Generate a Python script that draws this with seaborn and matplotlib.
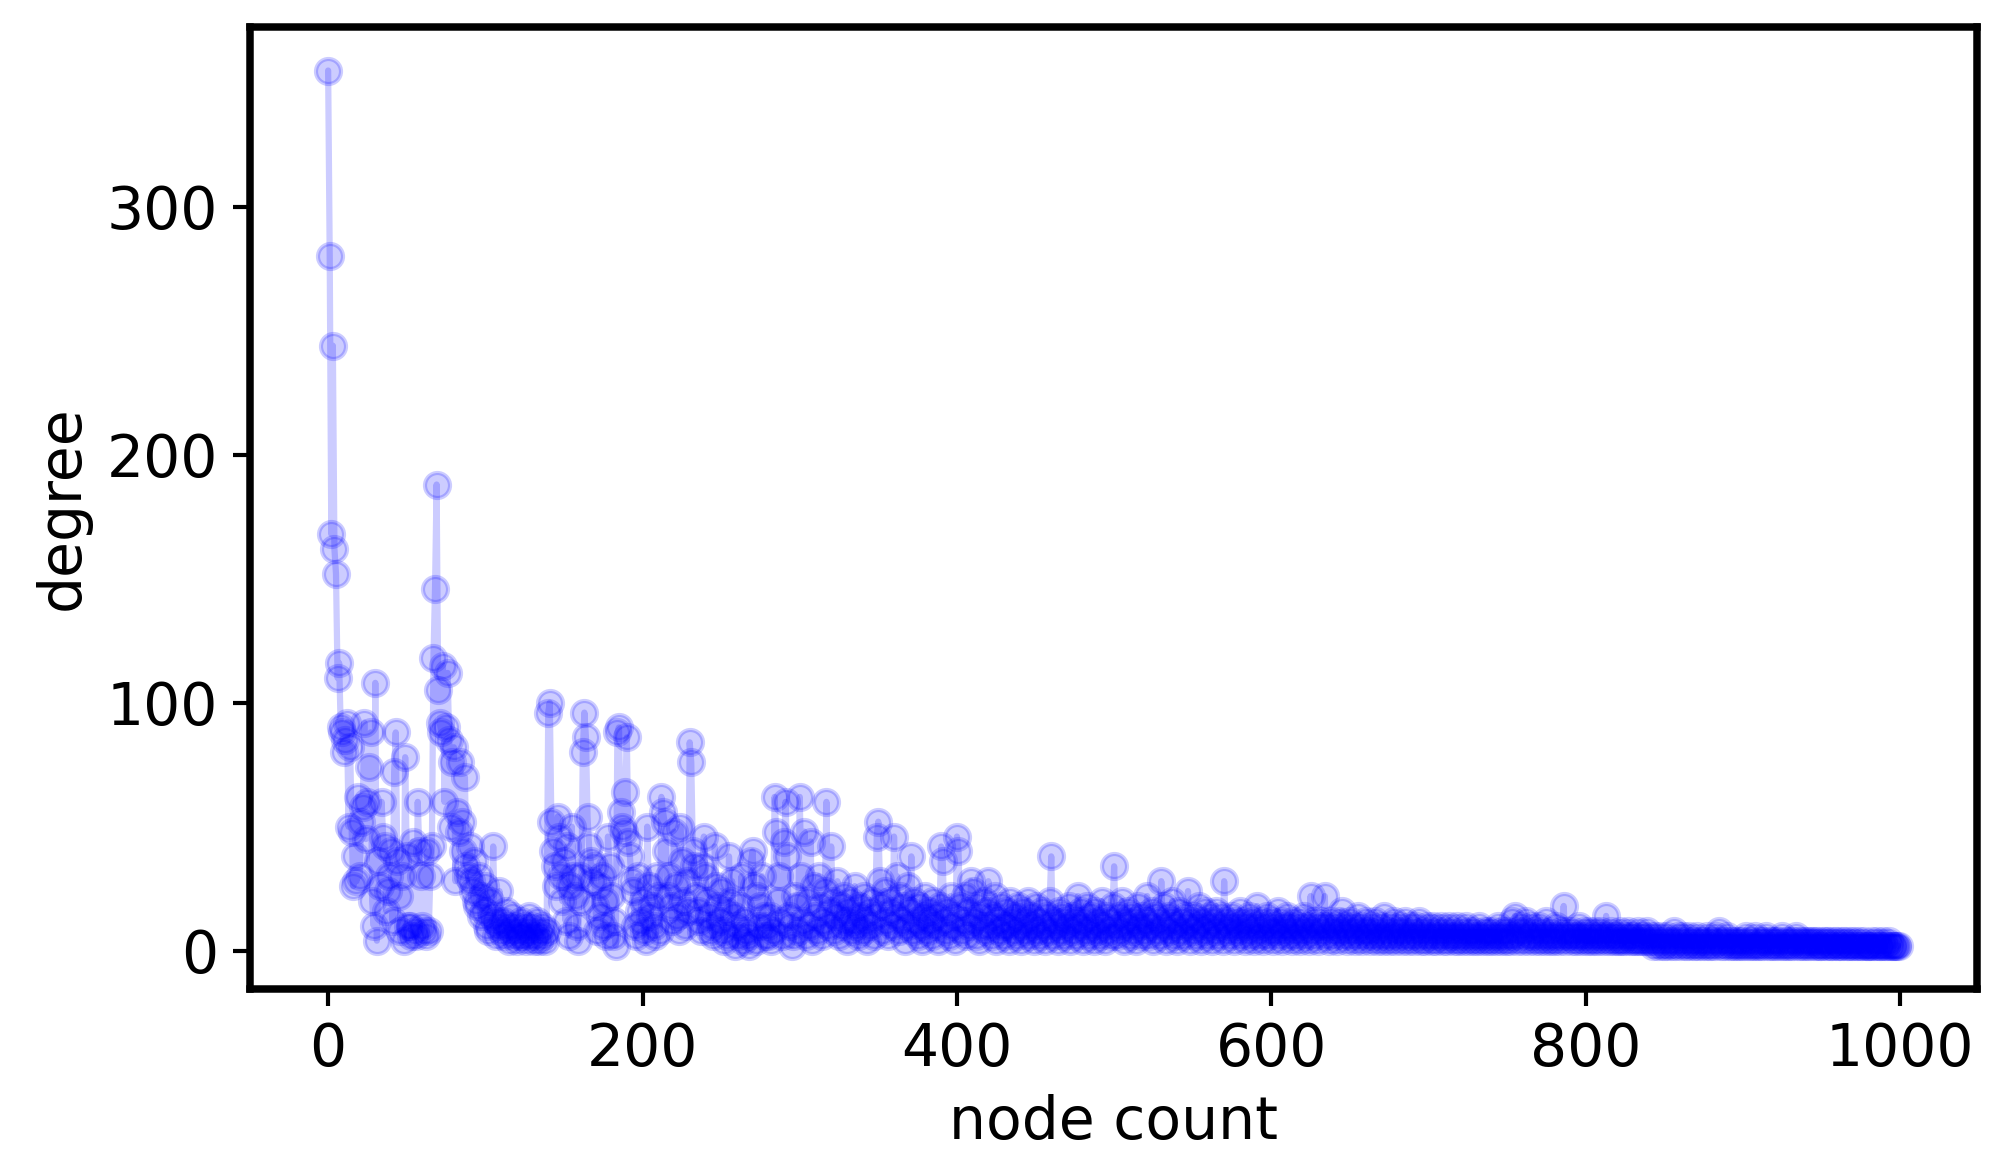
import matplotlib
matplotlib.use('Agg')
import matplotlib.pyplot as plt
import seaborn as sns
import pandas as pd

# degree per node (index = node count)
degree = [
    355,280,168,244,162,152,110,116,90,88,
    80,85,92,50,82,48,26,38,28,62,
    30,52,58,92,45,60,74,88,20,10,
    108,4,36,26,60,46,42,16,24,30,
    40,12,72,88,36,22,8,30,4,78,
    38,10,10,6,44,8,6,60,40,30,
    10,8,6,40,8,30,42,118,146,188,105,92,88,115,
    60,90,112,85,50,76,82,28,56,48,
    76,52,40,70,34,30,42,28,24,36,
    20,18,30,14,22,16,26,10,8,20,
    14,42,12,6,10,24,8,12,6,16,
    10,4,8,14,6,10,4,8,6,12,
    6,10,4,8,14,6,10,4,6,12,4,8,10,6,4,8,96,100,
    52,40,34,26,54,46,30,20,36,12,
    42,6,26,50,30,22,10,4,30,20,80,96,
    86,54,42,36,28,34,18,8,26,14,
    30,10,20,6,46,34,22,6,12,2,
    88,90,56,50,48,64,86,44,38,28,
    24,10,6,30,16,12,20,8,4,50,
    26,14,18,10,6,30,22,8,62,56,
    52,40,22,30,18,12,48,26,14,8,50,36,20,10,28,16,84,76,40,34,22,16,12,8,34,
    46,30,20,14,8,10,6,42,26,18,
    12,24,8,4,16,6,38,20,28,14,
    2,10,6,18,30,4,12,8,6,2,
    36,40,26,4,22,10,18,30,14,6,
    10,
    6,14,4,8,62,48,20,30,12,6,
    44,60,38,14,10,2,6,22,18,8,
    62,30,12,48,6,20,10,44,4,26,
    14,8,30,18,6,12,24,60,10,16,
    42,20,8,14,28,6,18,10,22,12,
    4,16,20,8,12,26,10,6,18,14,
    8,22,12,4,16,10,20,6,14,46,
    52,28,18,8,24,12,6,20,16,10,
    46,14,30,8,22,12,18,4,10,26,
    16,38,8,20,12,6,18,10,4,14,
    22,8,16,12,6,20,10,14,4,18,
    42,36,12,8,16,6,22,10,14,4,
    46,40,18,8,12,22,6,16,10,28,
    24,12,6,18,4,14,10,20,8,16,
    28,10,6,14,22,4,12,8,18,10,
    6,16,10,4,20,12,8,14,6,18,
    10,4,16,8,12,20,6,14,10,4,
    18,8,12,6,16,10,4,14,8,20,
    38,6,12,10,4,16,8,14,6,12,
    10,18,4,14,8,12,6,22,10,16,
    4,12,8,18,6,14,10,4,16,8,
    12,6,20,10,4,14,8,12,6,18,
    34,10,6,14,8,20,4,12,10,16,
    6,14,8,12,4,18,10,6,14,8,
    12,22,6,10,16,4,14,8,12,6,
    28,10,18,4,14,8,12,20,6,10,
    4,16,8,12,6,14,10,24,4,12,
    8,14,6,10,18,4,12,8,16,6,
    10,14,4,12,8,16,6,10,14,4,
    28,12,8,10,6,14,4,12,8,10,
    16,6,12,4,10,8,14,6,12,4,
    10,18,8,6,12,4,10,14,6,8,
    12,4,10,8,16,6,12,4,10,8,
    14,6,10,4,12,8,6,10,4,12,
    8,14,6,10,4,22,8,12,6,10,
    4,12,8,10,22,6,10,4,12,8,
    6,10,4,12,8,16,6,10,4,8,
    12,6,10,4,8,14,6,10,4,8,
    12,6,8,4,10,6,12,4,8,6,
    10,4,14,6,8,4,10,6,12,4,
    8,6,10,4,8,12,6,4,10,6,
    8,4,10,6,12,4,8,6,4,10,
    6,8,4,10,6,4,8,6,10,4,
    8,6,4,10,6,8,4,6,10,4,
    6,8,4,6,10,4,8,6,4,8,
    6,4,10,6,4,8,6,4,8,6,
    4,8,6,4,10,6,4,8,6,4,
    8,6,4,12,6,14,4,8,6,10,
    4,8,12,6,4,10,6,8,4,6,
    10,4,8,6,4,12,6,4,8,6,
    4,10,6,4,8,6,18,4,6,8,
    6,4,8,6,4,6,10,4,6,8,
    4,6,8,4,6,4,8,6,4,6,
    8,4,6,14,4,6,8,4,6,4,
    6,4,8,4,6,4,6,8,4,6,
    4,6,4,8,4,6,4,6,4,8,
    4,6,4,2,6,4,2,4,6,2,
    4,2,6,4,2,4,8,2,4,6,
    2,4,6,2,4,2,6,4,2,4,
    2,6,4,2,4,2,4,6,2,4,
    2,4,2,6,4,8,2,4,2,4,
    6,2,4,2,4,2,4,2,4,2,
    4,2,6,2,4,2,4,2,6,2,
    4,2,4,2,4,6,2,4,2,4,
    2,4,2,4,2,6,2,4,2,4,
    2,4,2,4,6,2,4,2,4,2,
    4,2,4,2,4,2,4,2,4,2,
    2,4,2,4,2,4,2,2,4,2,
    4,2,2,4,2,4,2,2,4,2,
    2,4,2,2,4,2,2,4,2,2,
    2,2,4,2,2,4,2,2,2,4,
    2,2,2,4,2,2,2,2,2,2,
]

df = pd.DataFrame({'node count': range(len(degree)), 'degree': degree})

sns.set_style('ticks')
plt.rcParams['font.family'] = ['DejaVu Sans']
fig, ax = plt.subplots(figsize=(1997 / 300, 1164 / 300), dpi=300)
fig.subplots_adjust(left=0.125, right=0.99, top=0.977, bottom=0.15)

sns.lineplot(data=df, x='node count', y='degree', ax=ax, color='blue',
             alpha=0.2, marker='o', markersize=6, markeredgecolor='blue',
             markeredgewidth=1, linewidth=1.5)

ax.set_xlabel('node count', fontsize=14, color='black')
ax.set_ylabel('degree', fontsize=14, color='black')
ax.set_yticks([0, 100, 200, 300])
ax.tick_params(labelsize=14, colors='black', width=1, length=4)
for s in ax.spines.values():
    s.set_linewidth(1.8)
    s.set_color('black')

fig.savefig('out.png', dpi=300)
